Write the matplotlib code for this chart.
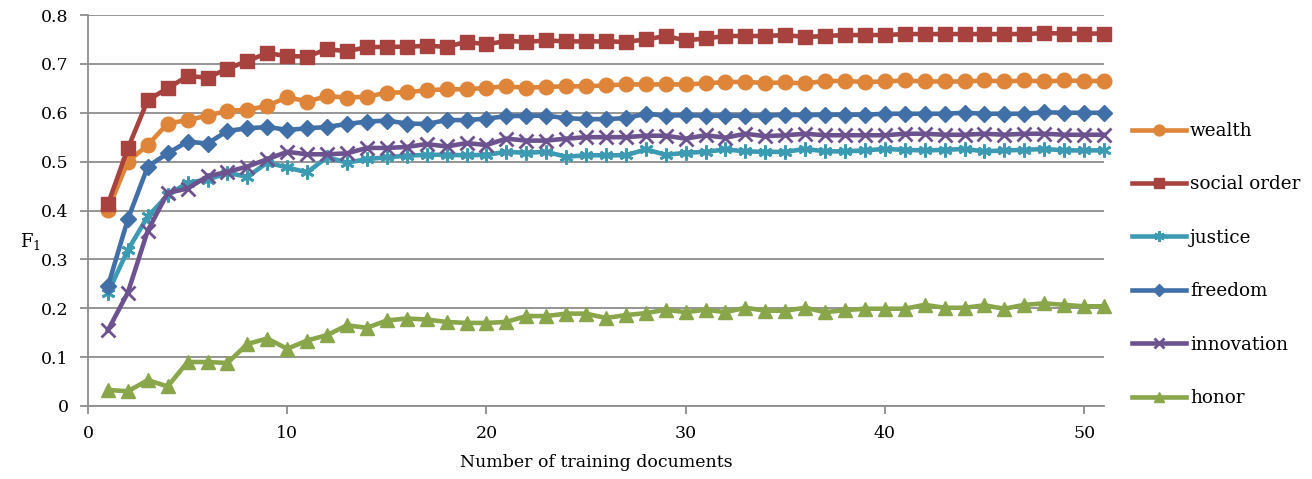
import matplotlib
matplotlib.use("Agg")
import matplotlib.pyplot as plt
import numpy as np

docs = list(range(1, 52))

wealth = [0.401, 0.500, 0.534, 0.578, 0.585, 0.594, 0.604, 0.606, 0.614, 0.632,
          0.623, 0.634, 0.631, 0.633, 0.641, 0.642, 0.646, 0.648, 0.648, 0.651,
          0.654, 0.651, 0.653, 0.654, 0.654, 0.656, 0.658, 0.658, 0.658, 0.658,
          0.660, 0.663, 0.663, 0.661, 0.662, 0.660, 0.665, 0.665, 0.663, 0.664,
          0.666, 0.664, 0.664, 0.664, 0.666, 0.664, 0.666, 0.664, 0.666, 0.665, 0.665]
social_order = [0.413, 0.527, 0.626, 0.650, 0.675, 0.672, 0.690, 0.706, 0.722, 0.716,
                0.715, 0.730, 0.726, 0.734, 0.735, 0.735, 0.737, 0.735, 0.745, 0.740,
                0.747, 0.745, 0.748, 0.746, 0.746, 0.746, 0.745, 0.750, 0.757, 0.748,
                0.752, 0.757, 0.757, 0.757, 0.759, 0.755, 0.757, 0.759, 0.759, 0.759,
                0.761, 0.761, 0.761, 0.761, 0.761, 0.761, 0.761, 0.763, 0.762, 0.762, 0.762]
justice = [0.232, 0.319, 0.388, 0.431, 0.457, 0.463, 0.477, 0.469, 0.498, 0.488,
           0.478, 0.509, 0.498, 0.505, 0.509, 0.512, 0.514, 0.514, 0.513, 0.514,
           0.520, 0.518, 0.520, 0.510, 0.513, 0.513, 0.513, 0.525, 0.514, 0.518,
           0.520, 0.525, 0.521, 0.520, 0.520, 0.526, 0.521, 0.521, 0.523, 0.526,
           0.524, 0.523, 0.524, 0.526, 0.521, 0.523, 0.524, 0.526, 0.523, 0.523, 0.523]
freedom = [0.245, 0.382, 0.490, 0.517, 0.541, 0.537, 0.563, 0.568, 0.571, 0.565,
           0.568, 0.571, 0.577, 0.582, 0.584, 0.578, 0.577, 0.585, 0.585, 0.588,
           0.593, 0.594, 0.594, 0.589, 0.587, 0.587, 0.589, 0.598, 0.594, 0.595,
           0.594, 0.594, 0.594, 0.594, 0.596, 0.595, 0.596, 0.596, 0.596, 0.598,
           0.598, 0.598, 0.598, 0.600, 0.598, 0.598, 0.598, 0.601, 0.600, 0.600, 0.600]
innovation = [0.155, 0.232, 0.359, 0.436, 0.445, 0.470, 0.479, 0.490, 0.505, 0.520,
              0.515, 0.515, 0.517, 0.528, 0.528, 0.530, 0.536, 0.531, 0.538, 0.534,
              0.547, 0.543, 0.543, 0.547, 0.550, 0.550, 0.550, 0.553, 0.553, 0.547,
              0.554, 0.549, 0.557, 0.552, 0.554, 0.557, 0.554, 0.554, 0.554, 0.554,
              0.557, 0.557, 0.555, 0.555, 0.557, 0.555, 0.557, 0.557, 0.555, 0.555, 0.555]
honor = [0.033, 0.030, 0.053, 0.040, 0.090, 0.090, 0.088, 0.127, 0.138, 0.117,
         0.134, 0.145, 0.165, 0.160, 0.175, 0.179, 0.177, 0.172, 0.170, 0.170,
         0.172, 0.184, 0.184, 0.189, 0.189, 0.180, 0.186, 0.190, 0.197, 0.192,
         0.197, 0.192, 0.201, 0.195, 0.195, 0.201, 0.192, 0.196, 0.199, 0.199,
         0.199, 0.207, 0.201, 0.201, 0.206, 0.199, 0.207, 0.210, 0.207, 0.204, 0.204]

labels = ["wealth", "social order", "justice", "freedom", "innovation", "honor"]
series = [wealth, social_order, justice, freedom, innovation, honor]
colors = ["#DF8539", "#A8423F", "#3C9BB2", "#4170A8", "#6D5290", "#89A64A"]
markers = ["o", "s", (6, 2, 0), "D", "x", "^"]
msizes = [10.5, 10.5, 10, 8.5, 10, 10.5]
mews = [1, 1, 2, 1, 2, 1]

x_ticks = [0, 10, 20, 30, 40, 50]
y_ticks = [0, 0.1, 0.2, 0.3, 0.4, 0.5, 0.6, 0.7, 0.8]

plt.rcParams["font.family"] = ["DejaVu Serif"]
plt.rcParams["mathtext.fontset"] = "dejavuserif"

fig = plt.figure(figsize=(13.12, 4.79), dpi=100)
ax = fig.add_axes([88/1312, 1-406/479, (1104-88)/1312, (406-15)/479])

grid_c = "#8C8C8C"
handles = []
for i, (lab, ys, c, m, ms, mew) in enumerate(zip(labels, series, colors, markers, msizes, mews)):
    h, = ax.plot(docs, ys, color=c, lw=3.3, marker=m, markersize=ms,
                 markeredgecolor=c, markerfacecolor=c, markeredgewidth=mew,
                 label=lab, zorder=3 + i, solid_joinstyle="round", clip_on=False)
    handles.append(h)

ax.set_xlim(0, 51)
ax.set_ylim(0, 0.8)
ax.set_xticks(x_ticks)
ax.set_yticks(y_ticks)
ax.set_yticklabels(["0" if v == 0 else f"{v:.1f}" for v in y_ticks])
ax.grid(axis="y", color=grid_c, lw=1.3, zorder=0)
ax.set_axisbelow(True)
for s in ["top", "right"]:
    ax.spines[s].set_visible(False)
for s in ["left", "bottom"]:
    ax.spines[s].set_color(grid_c)
    ax.spines[s].set_linewidth(1.3)
ax.tick_params(axis="both", colors=grid_c, length=6, width=1.3, labelcolor="black",
               labelsize=12.5)
ax.tick_params(axis="y", pad=8)
ax.tick_params(axis="x", pad=8)

ax.set_xlabel("Number of training documents", fontsize=12.5, labelpad=8)
fig.text(20/1312, 1-242/479, r"F$_\mathregular{1}$", fontsize=13, ha="left", va="center")

fig.legend(handles=handles, loc="center left", bbox_to_anchor=(1132/1312, 1-264.5/479),
           frameon=False, numpoints=1, handlelength=2.95, handletextpad=0.22,
           labelspacing=1.93, fontsize=13.2, borderaxespad=0, borderpad=0,
           markerscale=0.75)

fig.savefig("out.png", dpi=100)
